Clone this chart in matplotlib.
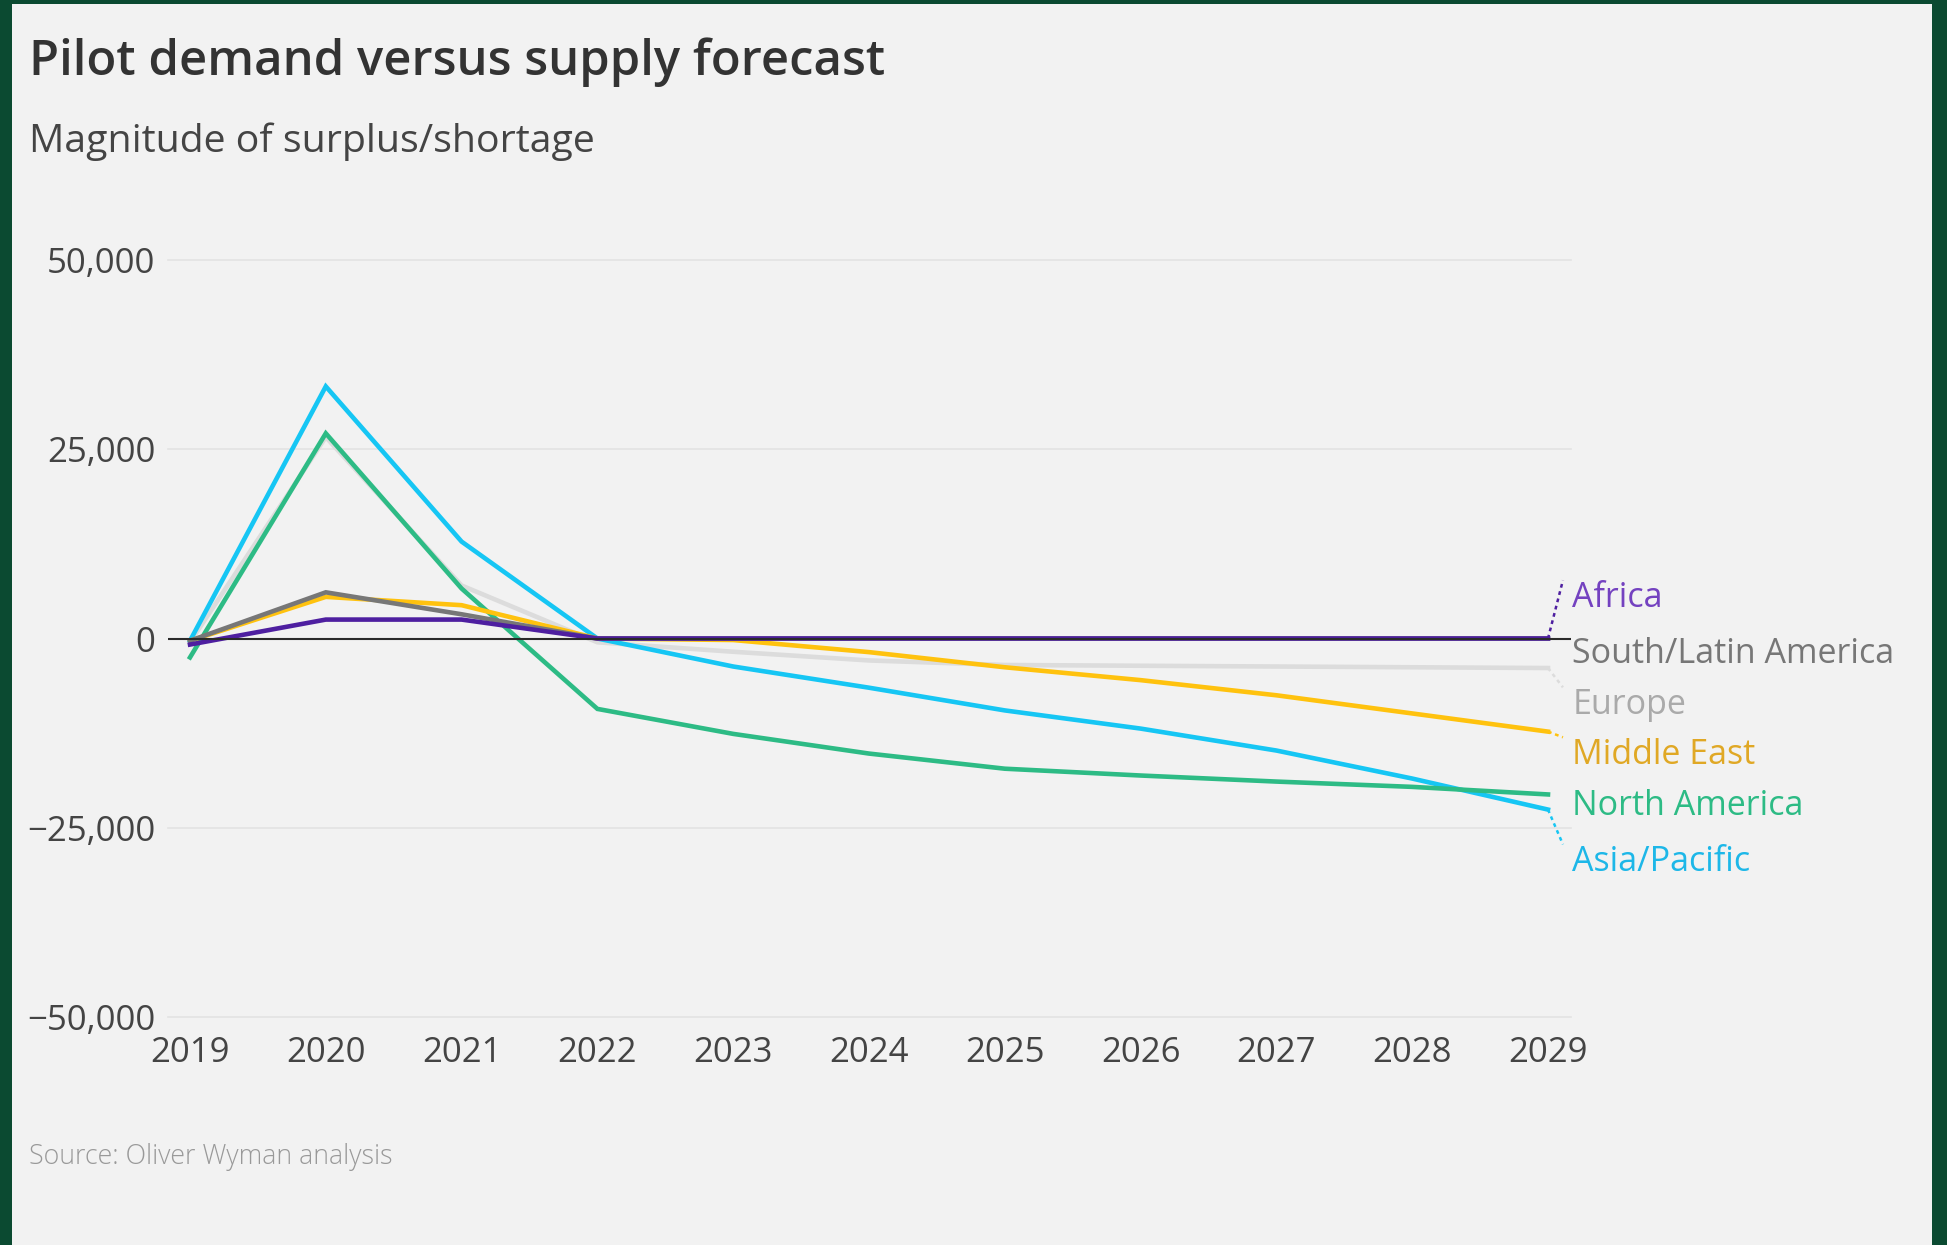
import matplotlib
matplotlib.use("Agg")
import matplotlib.pyplot as plt
from matplotlib.patches import Rectangle

plt.rcParams['font.family'] = ['Open Sans', 'DejaVu Sans']

years = list(range(2019, 2030))
africa = [-800, 2500, 2500, 0, 0, 0, 0, 0, 0, 0, 0]
south_latin = [-300, 6100, 3200, 0, 0, 0, 0, 0, 0, 0, 0]
europe = [-500, 26600, 7000, -500, -1750, -2900, -3500, -3600, -3700, -3800, -3900]
middle_east = [-300, 5500, 4400, 0, -200, -1800, -3800, -5500, -7500, -9900, -12300]
north_america = [-2500, 27100, 6600, -9300, -12600, -15200, -17200, -18100, -18900, -19600, -20600]
asia_pacific = [-300, 33300, 12800, 0, -3700, -6500, -9500, -11900, -14800, -18500, -22600]

# label positions on the right (y in data units)
label_names = ['Africa', 'South/Latin America', 'Europe', 'Middle East', 'North America', 'Asia/Pacific']
label_y = [5400, -2000, -8750, -15350, -22150, -29500]

series = [africa, south_latin, europe, middle_east, north_america, asia_pacific]
line_colors = ['#4e1fa0', '#777777', '#dcdcdc', '#ffc20e', '#2dbb85', '#16c6f4']
text_colors = ['#7442c0', '#777777', '#aaaaaa', '#e0a825', '#2dbb85', '#1db7e8']
draw_order = [2, 5, 4, 3, 1, 0]
needs_leader = [True, False, True, True, False, True]

W, H = 1947, 1245
fig = plt.figure(figsize=(W / 100, H / 100), dpi=100)
fig.patch.set_facecolor('#0b4a31')
fig.patches.append(Rectangle((12 / W, 0), (1932 - 12) / W, (H - 4) / H,
                             transform=fig.transFigure, facecolor='#f2f2f2',
                             edgecolor='none', zorder=-5))

ax = fig.add_axes([168 / W, (H - 1017) / H, (1571 - 168) / W, (1017 - 260) / H])
ax.set_facecolor('none')
ax.set_xlim(2019 - 22 / 135.8, 2029 + 23 / 135.8)
ax.set_ylim(-50000, 50000)

for v in [-50000, -25000, 25000, 50000]:
    ax.axhline(v, color='#e3e3e3', lw=1.2, zorder=1, clip_on=False)

for i in draw_order:
    ax.plot(years, series[i], color=line_colors[i], lw=3.3, zorder=3,
            solid_joinstyle='miter', clip_on=False)

ax.axhline(0, color='#2a2a2a', lw=1.5, zorder=5)

x_end = years[-1]
for i, name in enumerate(label_names):
    if needs_leader[i]:
        ax.plot([x_end, x_end + 0.11], [series[i][-1], label_y[i] + 2300],
                color=line_colors[i], lw=1.8, ls=(0, (1.5, 1.5)), zorder=4,
                clip_on=False)
    ax.text(x_end + 0.18, label_y[i], name, color=text_colors[i], fontsize=24.5,
            va='center', ha='left', clip_on=False)

ax.set_xticks(years)
ax.set_xticklabels([str(y) for y in years])
ax.set_yticks([-50000, -25000, 0, 25000, 50000])
ax.set_yticklabels(['\u221250,000', '\u221225,000', '0', '25,000', '50,000'])
ax.tick_params(axis='both', length=0, labelsize=25, labelcolor='#444444')
ax.tick_params(axis='y', pad=9)
ax.tick_params(axis='x', pad=14)
for s in ax.spines.values():
    s.set_visible(False)

fig.text(29 / W, 1 - 62 / H, 'Pilot demand versus supply forecast', fontsize=35.3,
         fontweight='semibold', color='#333333', va='center', ha='left')
fig.text(29 / W, 1 - 142 / H, 'Magnitude of surplus/shortage', fontsize=28.3,
         color='#444444', va='center', ha='left')
fig.text(29 / W, 1 - 1157 / H, 'Source: Oliver Wyman analysis', fontsize=19.3,
         fontweight='light', color='#999999', va='center', ha='left')

fig.savefig('out.png', dpi=100, facecolor=fig.get_facecolor())
